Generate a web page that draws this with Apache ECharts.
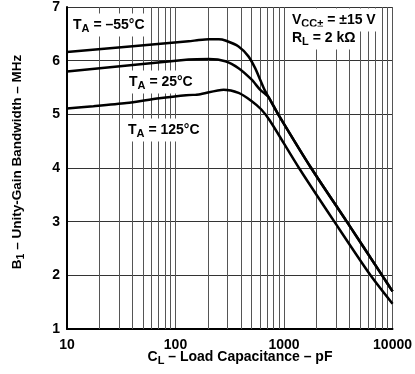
<!DOCTYPE html>
<html><head><meta charset="utf-8">
<script src="https://cdn.jsdelivr.net/npm/echarts@6/dist/echarts.min.js"></script>
<style>html,body{margin:0;padding:0;background:#fff}#c{width:415px;height:374px}</style>
</head><body><div id="c"></div>
<script>
// Load capacitance (pF) and unity-gain bandwidth (MHz)
const capM55 = [10, 132, 164, 203, 251, 288, 381, 470, 542, 601, 660, 720, 884, 1778, 3788, 8017, 10000];
const bwM55  = [6.16, 6.36, 6.385, 6.40, 6.40, 6.376, 6.265, 6.08, 5.86, 5.65, 5.46, 5.32, 5.00, 4.00, 3.00, 2.00, 1.70];
const cap25  = [10, 132, 203, 288, 381, 501, 601, 660, 720, 884, 1778, 3788, 8017, 10000];
const bw25   = [5.80, 6.02, 6.03, 5.99, 5.86, 5.65, 5.46, 5.39, 5.32, 5.00, 4.00, 3.00, 2.00, 1.70];
const cap125 = [10, 17.5, 35.3, 71, 133, 164, 278, 381, 501, 618, 742, 1374, 2909, 6270, 10000];
const bw125  = [5.11, 5.15, 5.21, 5.30, 5.36, 5.37, 5.46, 5.40, 5.25, 5.09, 4.88, 4.00, 3.00, 2.00, 1.47];
const xTickLabels = ['10', '100', '1000', '10000'];
const yTicks = [1, 2, 3, 4, 5, 6, 7];
const minorX = [20,30,40,50,60,70,80,90,200,300,400,500,600,700,800,900,2000,3000,4000,5000,6000,7000,8000,9000];

const FONT = "'Liberation Sans', Arial, sans-serif";
const pair = (xs, ys) => xs.map((x, i) => [x, ys[i]]);
const subStyle = { fontSize: 11, fontWeight: 'bold', fontFamily: FONT, padding: [8, 0, 0, 0], color: '#000' };
const nStyle = { fontSize: 14, fontWeight: 'bold', fontFamily: FONT, color: '#000' };

function label(x, y, text) {
  return {
    type: 'text', x: x, y: y, z: 50,
    style: {
      text: text, textAlign: 'left', textVerticalAlign: 'middle',
      fontSize: 14, fontWeight: 'bold', fontFamily: FONT, fill: '#000',
      backgroundColor: '#fff', padding: [2, 3, 2, 3],
      rich: { sub: subStyle, n: nStyle }
    }
  };
}

const chart = echarts.init(document.getElementById('c'), null, { renderer: 'canvas' });
const lineSeries = (name, data) => ({
  name: name, type: 'line', data: data, smooth: 0.25, showSymbol: false, z: 5,
  lineStyle: { color: '#000', width: 2.5 }, itemStyle: { color: '#000' }
});

chart.setOption({
  animation: false,
  backgroundColor: '#fff',
  grid: { left: 67, right: 19, top: 5, bottom: 45, containLabel: false },
  xAxis: {
    type: 'log', logBase: 10, min: 10, max: 10000,
    axisLine: { show: true, onZero: false, lineStyle: { color: '#000', width: 2 } },
    axisTick: { show: false },
    axisLabel: {
      show: true, margin: 9, color: '#000', fontSize: 14, fontWeight: 'bold', fontFamily: FONT,
      formatter: v => { const s = String(Math.round(v)); return xTickLabels.indexOf(s) >= 0 ? s : ''; }
    },
    splitLine: { show: true, lineStyle: { color: '#555', width: 1 } },
    minorTick: { show: false }, minorSplitLine: { show: false }
  },
  yAxis: {
    type: 'value', min: yTicks[0], max: yTicks[yTicks.length - 1], interval: 1,
    axisLine: { show: true, onZero: false, lineStyle: { color: '#000', width: 2 } },
    axisTick: { show: false },
    axisLabel: { margin: 7, color: '#000', fontSize: 14, fontWeight: 'bold', fontFamily: FONT },
    splitLine: { show: true, lineStyle: { color: '#333', width: 1 } }
  },
  series: [
    {
      type: 'line', data: [], z: 1, silent: true,
      markLine: {
        silent: true, symbol: ['none', 'none'], label: { show: false },
        lineStyle: { color: '#555', width: 1, type: 'solid' },
        data: minorX.map(v => ({ xAxis: v }))
      }
    },
    lineSeries('TA = -55°C', pair(capM55, bwM55)),
    lineSeries('TA = 25°C', pair(cap25, bw25)),
    lineSeries('TA = 125°C', pair(cap125, bw125))
  ],
  graphic: [
    label(70, 25, '{n|T}{sub|A}{n| = –55°C}'),
    label(126, 82, '{n|T}{sub|A}{n| = 25°C}'),
    label(125, 130, '{n|T}{sub|A}{n| = 125°C}'),
    label(289, 20, '{n|V}{sub|CC±}{n| = ±15 V}'),
    label(289, 38, '{n|R}{sub|L}{n| = 2 kΩ}'),
    {
      type: 'text', x: 240, y: 357, z: 50,
      style: {
        text: '{n|C}{sub|L}{n| – Load Capacitance – pF}', textAlign: 'center', textVerticalAlign: 'middle',
        fontSize: 14, fontWeight: 'bold', fontFamily: FONT, fill: '#000',
        rich: { sub: subStyle, n: nStyle }
      }
    },
    {
      type: 'text', x: 17, y: 162, z: 50, rotation: Math.PI / 2,
      style: {
        text: '{n|B}{sub|1}{n| – Unity-Gain Bandwidth – MHz}', textAlign: 'center', textVerticalAlign: 'middle',
        fontSize: 13.5, fontWeight: 'bold', fontFamily: FONT, fill: '#000',
        rich: { sub: Object.assign({}, subStyle, { fontSize: 10.5 }), n: Object.assign({}, nStyle, { fontSize: 13.5 }) }
      }
    }
  ]
});
</script></body></html>
